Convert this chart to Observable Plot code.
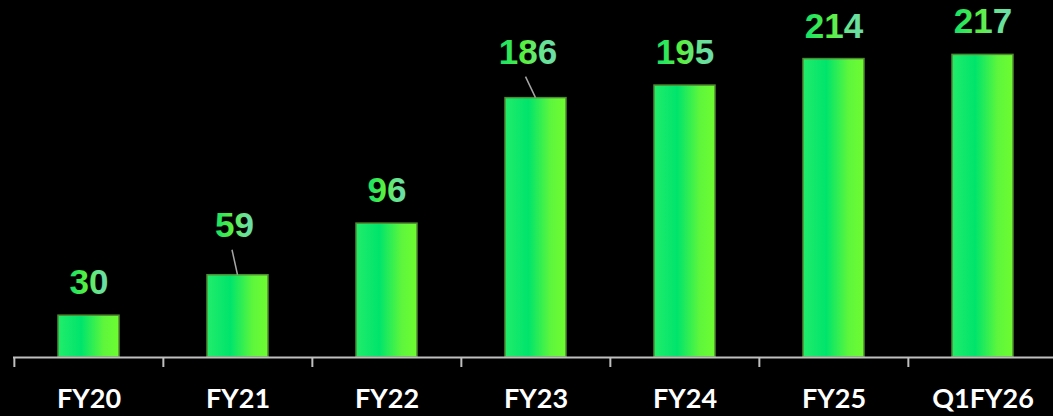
<!DOCTYPE html>
<html>
<head>
<meta charset="utf-8">
<script src="https://cdn.jsdelivr.net/npm/d3@7"></script>
<script src="https://cdn.jsdelivr.net/npm/@observablehq/plot@0.6"></script>
<style>
  html, body { margin: 0; padding: 0; background: #000; }
  #chart svg { display: block; background: #000; }
</style>
</head>
<body>
<div id="chart"></div>
<script>
// Categories and values
const periods = ["FY20", "FY21", "FY22", "FY23", "FY24", "FY25", "Q1FY26"];
const values = [30, 59, 96, 186, 195, 214, 217];

// Labels that sit higher with a leader line back to their bar (pixel offsets)
const leaderPeriods = ["FY21", "FY23"];
const leaderDx = [-3.5, -8];
const leaderDy = [-38, -34];

const data = periods.map((p, i) => ({period: p, value: values[i]}));
const xRange = [13.2, 1058.3];
const step = (xRange[1] - xRange[0]) / periods.length;

const labelFont = "'Liberation Sans', Arial, sans-serif";
const axisFont = "Lato, 'Open Sans', sans-serif";
const labelStyle = {
  fill: "url(#labelGrad)", fontSize: 35, fontWeight: "bold",
  fontFamily: labelFont, style: "letter-spacing:-3.5px"
};

const plainLabels = data.filter(d => !leaderPeriods.includes(d.period));
const liftedMarks = leaderPeriods.map((p, i) =>
  Plot.text(data.filter(d => d.period === p), {
    x: "period", y: "value", text: d => String(d.value),
    lineAnchor: "bottom", dx: leaderDx[i], dy: leaderDy[i],
    ...labelStyle
  })
);

const plot = Plot.plot({
  width: 1053,
  height: 416,
  marginTop: 0,
  marginBottom: 59,
  marginLeft: 13,
  marginRight: 0,
  style: {background: "#000"},
  x: {domain: periods, range: xRange, paddingInner: 0.59, paddingOuter: 0.295, axis: null},
  y: {domain: [0, 256], axis: null},
  marks: [
    Plot.barY(data, {
      x: "period", y: "value",
      fill: "url(#barGrad)", stroke: "#4f8a30", strokeWidth: 1.5
    }),
    Plot.ruleY([0], {stroke: "#bfbfbf", strokeWidth: 2}),
    Plot.ruleX(periods, {
      x: d => d, dx: -step / 2, y1: 0, y2: 0, insetBottom: -10,
      stroke: "#bfbfbf", strokeWidth: 2
    }),
    Plot.text(plainLabels, {
      x: "period", y: "value", text: d => String(d.value),
      lineAnchor: "bottom", dy: -21.5,
      ...labelStyle
    }),
    ...liftedMarks,
    Plot.text(periods, {
      x: d => d, y: 0, text: d => d, dy: 42,
      fill: "#fff", fontSize: 27, fontWeight: "bold", fontFamily: axisFont
    })
  ]
});

// Gradient fills for bars and value labels
const svg = d3.select(plot);
const defs = svg.insert("defs", ":first-child");
const barGrad = defs.append("linearGradient").attr("id", "barGrad")
  .attr("x1", "0").attr("x2", "1").attr("y1", "0").attr("y2", "0");
barGrad.append("stop").attr("offset", "0").attr("stop-color", "#22ec6a");
barGrad.append("stop").attr("offset", "0.38").attr("stop-color", "#00e46c");
barGrad.append("stop").attr("offset", "0.75").attr("stop-color", "#5ef63c");
barGrad.append("stop").attr("offset", "1").attr("stop-color", "#6efc30");
const labelGrad = defs.append("linearGradient").attr("id", "labelGrad")
  .attr("x1", "0").attr("x2", "1").attr("y1", "0").attr("y2", "0");
labelGrad.append("stop").attr("offset", "0").attr("stop-color", "#12e26a");
labelGrad.append("stop").attr("offset", "0.45").attr("stop-color", "#5cf03e");
labelGrad.append("stop").attr("offset", "0.7").attr("stop-color", "#66e48c");
labelGrad.append("stop").attr("offset", "1").attr("stop-color", "#6cdcae");

// Leader lines from the raised labels down to their bar tops
const xs = plot.scale("x"), ys = plot.scale("y");
leaderPeriods.forEach((p, i) => {
  const v = values[periods.indexOf(p)];
  const cx = xs.apply(p) + xs.bandwidth / 2;
  const top = ys.apply(v);
  svg.append("line")
    .attr("x1", cx + leaderDx[i] - 2).attr("y1", top + leaderDy[i] + 13)
    .attr("x2", cx).attr("y2", top)
    .attr("stroke", "#a6a6a6").attr("stroke-width", 1.5);
});

document.getElementById("chart").appendChild(plot);
</script>
</body>
</html>
